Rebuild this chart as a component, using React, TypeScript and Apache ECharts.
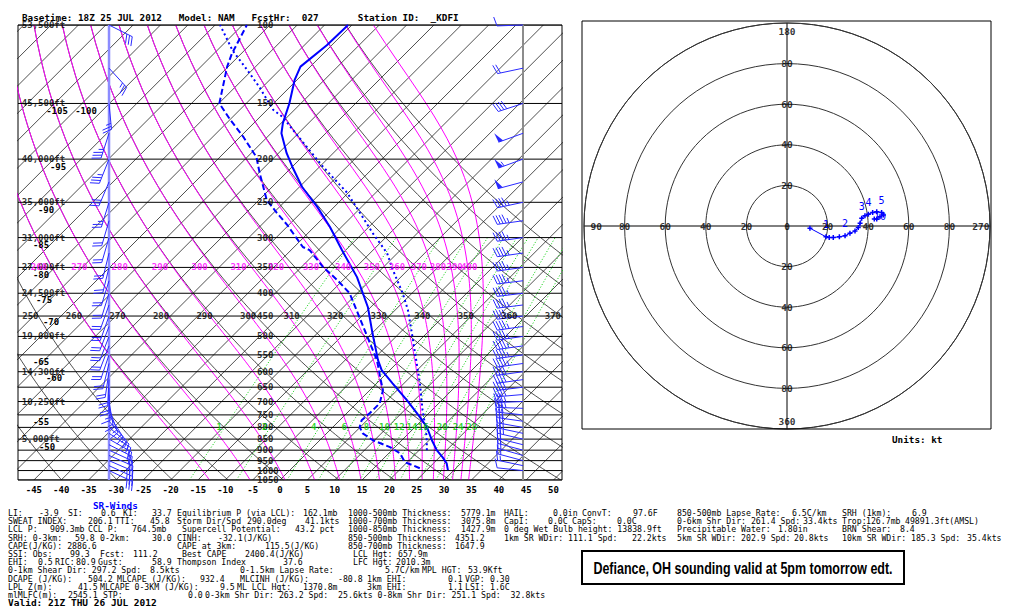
import { useEffect, useRef } from 'react';
import * as echarts from 'echarts';

// ---------------- Data ----------------
const pressureLevels = [100, 150, 200, 250, 300, 350, 400, 450, 500, 550, 600, 650, 700, 750, 800, 850, 900, 950, 1000, 1050];
const altLabelP = [100, 150, 200, 250, 300, 350, 400, 500, 600, 700, 850];
const altLabelText = ['53,500ft', '45,500ft', '40,000ft', '35,000ft', '31,000ft', '27,000ft', '24,500ft', '19,000ft', '14,300ft', '10,250ft', '5,000ft'];
const tempTicks = [-45, -40, -35, -30, -25, -20, -15, -10, -5, 0, 5, 10, 15, 20, 25, 30, 35, 40, 45, 50];

// Temperature profile (hPa, degC)
const tempP = [998, 963, 934, 900, 855, 799, 759, 695, 637, 595, 565, 492, 430, 368, 320, 284, 256, 231, 208, 194, 175, 166, 150, 133, 124, 111, 100];
const tempT = [28.9, 27.4, 25.6, 23.2, 20.5, 17.2, 14.1, 8.6, 2.9, -1.5, -4.0, -9.9, -15.5, -23.0, -30.7, -37.1, -43.1, -49.5, -55.0, -58.5, -63.1, -64.7, -67.1, -70.4, -71.8, -70.9, -70.7];
// Dewpoint profile
const dewP = [988, 973, 958, 914, 886, 855, 825, 799, 771, 743, 706, 660, 617, 595, 565, 502, 453, 400, 374, 349, 320, 315, 281, 264, 247, 215, 198, 178, 163, 150, 124, 116, 100];
const dewT = [23.4, 21.6, 19.6, 17.0, 14.1, 9.7, 6.6, 4.9, 4.0, 4.2, 4.2, 2.4, -0.5, -2.0, -4.2, -10.1, -15.2, -21.4, -26.0, -31.1, -36.6, -38.4, -45.3, -49.4, -53.6, -59.8, -63.3, -69.5, -75.0, -79.9, -85.2, -86.7, -89.2];
// Lifted parcel
const parcelP = [900, 842, 783, 732, 637, 545, 492, 436, 400, 355, 325, 293, 264, 238, 208, 188, 172, 161, 155, 138, 126, 114, 100];
const parcelT = [21.4, 19.0, 16.1, 13.3, 7.9, 1.5, -2.7, -7.7, -11.7, -17.7, -21.9, -28.2, -34.2, -40.2, -49.4, -55.9, -61.6, -65.8, -68.9, -75.5, -81.0, -87.2, -94.1];

// Ground-relative winds
const windP = [1000, 975, 950, 925, 900, 875, 850, 825, 800, 775, 750, 725, 700, 675, 650, 625, 600, 575, 550, 525, 500, 475, 450, 425, 400, 375, 350, 325, 300, 275, 250, 225, 200, 175, 150, 125, 100];
const windDir = [276, 282, 285, 286, 285, 284, 283, 282, 280, 278, 276, 272, 268, 265, 263, 262, 262, 262, 262, 262, 262, 262, 263, 263, 263, 263, 262, 262, 262, 262, 258, 255, 250, 250, 252, 258, 268];
const windSpd = [11, 15, 17, 19, 20, 22, 24, 26, 28, 30, 32, 34, 36, 38, 39, 40, 42, 44, 46, 47, 47, 47, 46, 46, 45, 45, 44, 44, 45, 45, 47, 52, 55, 52, 38, 22, 10];
const stormDir = 290.0;
const stormSpd = 41.1;

// Hodograph (u, v in kt)
const hodoU = [11.3, 19.2, 20.8, 22.8, 25.8, 28.6, 31.0, 33.5, 35.1, 36.0, 36.8, 38.4, 40.1, 42.2, 44.2, 46.6, 47.5, 45.8, 44.2, 43.0];
const hodoV = [-1.1, -5.3, -5.7, -5.7, -5.3, -4.8, -3.6, -2.5, -0.8, 1.3, 3.8, 5.1, 5.8, 6.7, 7.0, 6.7, 5.4, 4.6, 3.4, 3.4];
const hodoLabelIdx = [1, 5, 10, 12, 15, 17];
const hodoLabelText = ['1', '2', '3', '4', '5', '10'];
const ringValues = [20, 40, 60, 80];

const dryLabels = [250, 260, 270, 280, 290, 300, 310, 320, 330, 340, 350, 360, 370];
const moistLabels = [260, 270, 280, 290, 300, 310, 320, 330, 340, 350, 360, 370, 380, 390, 400];
const mixRatios = [1, 2, 4, 6, 8, 10, 12, 14, 16, 20, 24, 28];

const isoLabelText = ['-105', '-100', '-95', '-90', '-85', '-80', '-75', '-70', '-65', '-60', '-55', '-50'];
const isoLabelPos = [[57, 111], [86, 111], [58, 167], [46, 210], [41, 245], [41, 275], [44, 300], [51, 322], [41, 362], [54, 378], [41, 422], [47, 447]];

const headerText = 'Basetime: 18Z 25 JUL 2012   Model: NAM   FcstHr:  027       Station ID:  _KDFI';
const statsRows: [number, string][][] = [
  [[8, 'LI:'], [39, '-3.9'], [68, 'SI:'], [101, '0.6'], [123, 'KI:'], [152, '33.7'], [177, 'Equilibrium P (via LCL):'], [303, '162.1mb'], [348, '1000-500mb Thickness:'], [461, '5779.1m'], [504, 'HAIL:'], [553, '0.0in'], [582, 'ConvT:'], [633, '97.6F'], [677, '850-500mb Lapse Rate:'], [792, '6.5C/km'], [842, 'SRH (1km):'], [912, '6.9']],
  [[8, 'SWEAT INDEX:'], [88, '206.1'], [115, 'TTI:'], [150, '45.8'], [177, 'Storm Dir/Spd'], [247, '290.0deg'], [305, '41.1kts'], [348, '1000-700mb Thickness:'], [461, '3075.8m'], [504, 'CapI:'], [548, '0.0C'], [572, 'CapS:'], [617, '0.0C'], [677, '0-6km Shr Dir: 261.4 Spd:'], [803, '33.4kts'], [842, 'Trop:'], [866, '126.7mb'], [905, '49891.3ft(AMSL)']],
  [[8, 'LCL P:'], [50, '909.3mb'], [88, 'CCL P:'], [132, '764.5mb'], [182, 'Supercell Potential:'], [295, '43.2 pct'], [348, '1000-850mb Thickness:'], [461, '1427.9m'], [504, '0 deg Wet Bulb height: 13838.9ft'], [677, 'Precipitable Water:'], [778, '1.80in'], [842, 'BRN Shear:'], [900, '8.4']],
  [[8, 'SRH: 0-3km:'], [75, '59.8'], [100, '0-2km:'], [152, '30.0'], [177, 'CINH:'], [218, '-32.1(J/KG)'], [348, '850-500mb Thickness:'], [455, '4351.2'], [504, '1km SR WDir: 111.1 Spd:'], [632, '22.2kts'], [677, '5km SR WDir: 202.9 Spd:'], [794, '20.8kts'], [842, '10km SR WDir: 185.3 Spd:'], [967, '35.4kts']],
  [[8, 'CAPE(J/KG): 2886.6'], [177, 'CAPE at 3km:'], [265, '115.5(J/KG)'], [348, '850-700mb Thickness:'], [455, '1647.9']],
  [[8, 'SSI: Obs:'], [70, '99.3'], [100, 'Fcst:'], [133, '111.2'], [182, 'Best CAPE'], [245, '2400.4(J/KG)'], [353, 'LCL Hgt:'], [398, '657.9m']],
  [[8, 'EHI:'], [38, '0.5'], [55, 'RIC:'], [76, '80.9'], [98, 'Gust:'], [152, '58.9'], [177, 'Thompson Index'], [283, '37.6'], [353, 'LFC Hgt:'], [396, '2010.3m']],
  [[8, '0-1km Shear Dir: 297.2 Spd:'], [150, '8.5kts'], [240, '0-1.5km Lapse Rate:'], [385, '5.7C/km'], [422, 'MPL HGT:'], [468, '53.9Kft']],
  [[8, 'DCAPE (J/KG):'], [88, '504.2'], [117, 'MLCAPE (J/KG):'], [200, '932.4'], [240, 'MLCINH (J/KG):'], [338, '-80.8'], [367, '1km EHI:'], [448, '0.1'], [465, 'VGP:'], [490, '0.30']],
  [[8, 'LPL Z(m):'], [78, '41.5'], [100, 'MLCAPE 0-3KM (J/KG):'], [220, '9.5'], [237, 'ML LCL Hgt:'], [303, '1370.8m'], [367, '3km EHI:'], [448, '1.1'], [465, 'LSI:'], [490, '1.6C']],
  [[8, 'mlMLFC(m):'], [68, '2545.1'], [103, 'STP:'], [188, '0.0'], [205, '0-3km Shr Dir: 263.2 Spd:  25.6kts 0-8km Shr Dir: 251.1 Spd:  32.8kts']],
];
const validText = 'Valid: 21Z THU 26 JUL 2012';
const boxText = 'Defiance, OH sounding valid at 5pm tomorrow edt.';

// ---------------- Chart geometry / thermodynamics ----------------
const P_TOP = 100;
const P_BOT = 1050;
const X_MIN = -47.9;
const X_MAX = 51.55;
const SKEW = 35.36; // degC per ln(p) unit
const X_SR = -31.26; // storm-relative wind column
const X_GR = 44.42; // ground-relative wind column
const X_PLAB = -4.2;
const X_ALT = -47.2;
const MONO = '"DejaVu Sans Mono", monospace';
const BLUE = '#0000ff';

const skewX = (T: number, p: number) => T + SKEW * Math.log(P_BOT / p);
const esat = (Tc: number) => 6.112 * Math.exp((17.67 * Tc) / (Tc + 243.5));
const thetaE = (Tk: number, p: number) => {
  const e = esat(Tk - 273.15);
  if (e > 0.5 * p) return 1e6;
  const r = (0.622 * e) / (p - e);
  return Tk * Math.pow(1000 / p, 0.2857) * Math.exp((2.5e6 * r) / (1004 * Tk));
};
const moistT = (te: number, p: number) => {
  let lo = 140, hi = 345;
  for (let i = 0; i < 50; i++) {
    const mid = (lo + hi) / 2;
    if (thetaE(mid, p) < te) lo = mid; else hi = mid;
  }
  return (lo + hi) / 2 - 273.15;
};
const dryT = (th: number, p: number) => th * Math.pow(p / 1000, 0.2857) - 273.15;
const mixT = (w: number, p: number) => {
  const e = (w * p) / (622 + w);
  const l = Math.log(e / 6.112);
  return (243.5 * l) / (17.67 - l);
};

const pGrid: number[] = [];
for (let p = P_BOT; p >= P_TOP; p -= 10) pGrid.push(p);
const pGridMix = pGrid.filter((p) => p >= 300);

const lineSeries = (data: number[][], color: string, width: number, type: any = 'solid', z = 2) => ({
  type: 'line',
  xAxisIndex: 0,
  yAxisIndex: 0,
  data,
  symbol: 'none',
  showSymbol: false,
  silent: true,
  clip: true,
  z,
  lineStyle: { color, width, type },
});

const labelSeries = (items: any[][], color: string, size: number, align: string, coord = 'cartesian2d', weight = 'bold') => {
  const s: any = {
    type: 'scatter',
    coordinateSystem: coord,
    data: items,
    symbolSize: 1,
    silent: true,
    z: 8,
    itemStyle: { color: 'rgba(0,0,0,0)' },
    label: {
      show: true,
      position: 'inside',
      formatter: (prm: any) => String(prm.data[2]),
      color,
      fontFamily: MONO,
      fontWeight: weight,
      fontSize: size,
      align,
      verticalAlign: 'middle',
    },
  };
  if (coord === 'cartesian2d') { s.xAxisIndex = 0; s.yAxisIndex = 0; }
  return s;
};

function barbElements(cx: number, cy: number, dir: number, spd: number, color: string) {
  const rad = (dir * Math.PI) / 180;
  const sx = Math.sin(rad), sy = -Math.cos(rad);
  const nx = -sy, ny = sx;
  const L = 26;
  const tx = cx + sx * L, ty = cy + sy * L;
  const els: any[] = [
    { type: 'line', shape: { x1: cx, y1: cy, x2: tx, y2: ty }, style: { stroke: color, lineWidth: 1 } },
  ];
  let rem = Math.round(spd / 5) * 5;
  let pos = 0;
  while (rem >= 50) {
    const bx = tx - sx * pos, by = ty - sy * pos;
    els.push({ type: 'polygon', shape: { points: [[bx, by], [bx + nx * 10 + sx * 1, by + ny * 10 + sy * 1], [bx - sx * 5, by - sy * 5]] }, style: { fill: color } });
    pos += 6;
    rem -= 50;
  }
  while (rem >= 10) {
    const bx = tx - sx * pos, by = ty - sy * pos;
    els.push({ type: 'line', shape: { x1: bx, y1: by, x2: bx + nx * 9 + sx * 3, y2: by + ny * 9 + sy * 3 }, style: { stroke: color, lineWidth: 1 } });
    pos += 3;
    rem -= 10;
  }
  if (rem >= 5) {
    if (pos === 0) pos = 3;
    const bx = tx - sx * pos, by = ty - sy * pos;
    els.push({ type: 'line', shape: { x1: bx, y1: by, x2: bx + nx * 5 + sx * 1.5, y2: by + ny * 5 + sy * 1.5 }, style: { stroke: color, lineWidth: 1 } });
  }
  return els;
}

const barbSeries = (data: number[][], color: string) => ({
  type: 'custom',
  coordinateSystem: 'cartesian2d',
  xAxisIndex: 0,
  yAxisIndex: 0,
  data,
  silent: true,
  z: 7,
  renderItem: (_params: any, api: any) => {
    const pt = api.coord([api.value(0), api.value(1)]);
    return { type: 'group', children: barbElements(pt[0], pt[1], api.value(2), api.value(3), color) };
  },
});

function buildOption() {
  const series: any[] = [];

  // isotherms
  for (let T = -130; T <= 50; T += 5) {
    series.push(lineSeries([[skewX(T, P_BOT), P_BOT], [skewX(T, P_TOP), P_TOP]], '#222', 0.8));
  }
  // dry adiabats
  for (let th = 220; th <= 390; th += 10) {
    series.push(lineSeries(pGrid.map((p) => [skewX(dryT(th, p), p), p]), '#222', 0.8));
  }
  // moist adiabats
  for (let te = 260; te <= 400; te += 10) {
    series.push(lineSeries(pGrid.map((p) => [skewX(moistT(te, p), p), p]), '#ff00ff', 1));
  }
  // mixing ratio lines
  mixRatios.forEach((w) => {
    series.push(lineSeries(pGridMix.map((p) => [skewX(mixT(w, p), p), p]), '#00cc00', 1, [1, 2]));
  });
  // isobars
  pressureLevels.forEach((p) => series.push(lineSeries([[X_MIN, p], [X_MAX, p]], '#000', 1, 'solid', 3)));
  // wind columns
  series.push(lineSeries([[X_SR, P_BOT], [X_SR, P_TOP]], '#8c8cff', 2.5, 'solid', 4));
  series.push(lineSeries([[X_GR, P_BOT], [X_GR, P_TOP]], '#8c8c8c', 2, 'solid', 4));

  // profiles
  series.push(lineSeries(parcelP.map((p, i) => [skewX(parcelT[i], p), p]), BLUE, 2, [2, 3], 6));
  series.push(lineSeries(dewP.map((p, i) => [skewX(dewT[i], p), p]), BLUE, 2, [6, 3], 6));
  series.push(lineSeries(tempP.map((p, i) => [skewX(tempT[i], p), p]), BLUE, 2, 'solid', 6));

  // wind barbs
  series.push(barbSeries(windP.map((p, i) => [X_GR, p, windDir[i], windSpd[i]]), '#2a2aff'));
  const su = -stormSpd * Math.sin((stormDir * Math.PI) / 180);
  const sv = -stormSpd * Math.cos((stormDir * Math.PI) / 180);
  const srData = windP.map((p, i) => {
    const r = (windDir[i] * Math.PI) / 180;
    const u = -windSpd[i] * Math.sin(r) - su;
    const v = -windSpd[i] * Math.cos(r) - sv;
    const d = ((Math.atan2(-u, -v) * 180) / Math.PI + 360) % 360;
    return [X_SR, p, d, Math.sqrt(u * u + v * v)];
  });
  series.push(barbSeries(srData, '#2a2aff'));

  // labels on skew-T
  series.push(labelSeries(pressureLevels.map((p) => [X_PLAB, p, String(p)]), '#000', 9, 'left'));
  series.push(labelSeries(altLabelP.map((p, i) => [X_ALT, p, altLabelText[i]]), '#000', 9, 'left'));
  series.push(labelSeries(dryLabels.map((th) => [skewX(dryT(th, 450), 450) - 1.45, 450, String(th)]), '#000', 9, 'center'));
  series.push(labelSeries(moistLabels.map((te) => [skewX(moistT(te, 350), 350) - 2.4, 350, String(te)]), '#ff00ff', 9, 'center'));
  series.push(labelSeries(mixRatios.map((w) => [skewX(mixT(w, 800), 800) - 1.0, 800, String(w)]), '#00cc00', 9, 'center'));

  // hodograph
  const hodoData = hodoU.map((u, i) => {
    const v = hodoV[i];
    const r = Math.sqrt(u * u + v * v);
    const a = ((Math.atan2(u, v) * 180) / Math.PI + 360) % 360;
    const item: any = { value: [r, a] };
    const li = hodoLabelIdx.indexOf(i);
    if (li >= 0) {
      item.label = { show: true, formatter: hodoLabelText[li], position: li === 5 ? 'inside' : 'top', distance: 2, color: BLUE, fontFamily: MONO, fontSize: 10 };
    }
    return item;
  });
  series.push({
    type: 'line',
    coordinateSystem: 'polar',
    data: hodoData,
    symbol: 'path://M4,0L4,8M0,4L8,4',
    symbolSize: 5,
    showSymbol: true,
    silent: true,
    z: 6,
    lineStyle: { color: BLUE, width: 1 },
    itemStyle: { color: 'none', borderColor: BLUE, borderWidth: 1.5 },
    label: { show: false },
  });
  const ringLabels: any[] = [];
  ringValues.forEach((r) => {
    ringLabels.push([r, 0, String(r)], [r, 180, String(r)], [r, 270, String(r)], [r, 90, String(r)]);
  });
  ringLabels.push([96, 0, '180'], [96.5, 180, '360'], [94, 270, '90'], [95.5, 90, '270'], [0, 0, '0']);
  series.push(labelSeries(ringLabels, '#000', 9.5, 'center', 'polar'));

  const txt = (x: number, y: number, text: string, font: string, fill = '#000', align = 'left') => ({
    type: 'text',
    x,
    y,
    silent: true,
    z: 10,
    style: { text, font, fill, textAlign: align, textVerticalAlign: 'middle' },
  });

  const graphic: any[] = [];
  graphic.push(txt(22, 17, headerText, `bold 9.3px ${MONO}`));
  isoLabelText.forEach((t, i) => graphic.push(txt(isoLabelPos[i][0], isoLabelPos[i][1], t, `bold 9px ${MONO}`, '#000', 'center')));
  graphic.push(txt(93, 505, 'SR-Winds', `bold 9.3px ${MONO}`, BLUE));
  statsRows.forEach((row, ri) => {
    row.forEach(([x, t]) => graphic.push(txt(x, 513 + ri * 8.2, t, `8.2px ${MONO}`)));
  });
  graphic.push(txt(8, 602, validText, `bold 9.5px ${MONO}`));
  graphic.push({ type: 'rect', shape: { x: 582, y: 21, width: 409, height: 408 }, silent: true, z: 1, style: { fill: 'none', stroke: '#000', lineWidth: 1 } });
  graphic.push(txt(892, 439, 'Units: kt', `bold 9.3px ${MONO}`));
  graphic.push({ type: 'rect', shape: { x: 582, y: 551, width: 322, height: 33 }, silent: true, z: 1, style: { fill: '#fff', stroke: '#000', lineWidth: 2 } });
  graphic.push({
    type: 'text', x: 743, y: 568, scaleX: 0.78, silent: true, z: 10,
    style: { text: boxText, font: 'bold 16px "Liberation Sans", Arial, sans-serif', fill: '#000', textAlign: 'center', textVerticalAlign: 'middle' },
  });

  return {
    animation: false,
    backgroundColor: '#fff',
    grid: [{ left: 18, top: 25, width: 544, height: 455, show: true, borderColor: '#000', borderWidth: 1, backgroundColor: 'transparent' }],
    xAxis: [{
      type: 'value', gridIndex: 0, min: X_MIN, max: X_MAX,
      axisLine: { show: false }, axisTick: { show: false }, splitLine: { show: false },
      axisLabel: { show: true, customValues: tempTicks, margin: 5, color: '#000', fontFamily: MONO, fontWeight: 'bold', fontSize: 9, formatter: (v: number) => String(v) },
    }],
    yAxis: [{
      type: 'log', gridIndex: 0, min: P_TOP, max: P_BOT, inverse: true, logBase: 10,
      axisLine: { show: false }, axisTick: { show: false }, splitLine: { show: false }, axisLabel: { show: false },
    }],
    polar: { center: [787, 226], radius: 203 },
    angleAxis: {
      type: 'value', min: 0, max: 360, interval: 90, startAngle: 90, clockwise: true,
      axisLine: { show: true, lineStyle: { color: '#333', width: 1 } },
      axisTick: { show: false }, axisLabel: { show: false },
      splitLine: { show: true, lineStyle: { color: '#000', width: 1 } },
    },
    radiusAxis: {
      type: 'value', min: 0, max: 100, interval: 20,
      axisLine: { show: false }, axisTick: { show: false }, axisLabel: { show: false },
      splitLine: { show: true, lineStyle: { color: '#333', width: 1 } },
    },
    series,
    graphic: { elements: graphic },
  };
}

export default function App() {
  const ref = useRef<HTMLDivElement>(null);
  useEffect(() => {
    if (!ref.current) return;
    const chart = echarts.init(ref.current, null, { renderer: 'svg' });
    chart.setOption(buildOption() as any);
    return () => chart.dispose();
  }, []);
  return <div ref={ref} style={{ position: 'absolute', left: 0, top: 0, width: 1024, height: 613, background: '#fff' }} />;
}
